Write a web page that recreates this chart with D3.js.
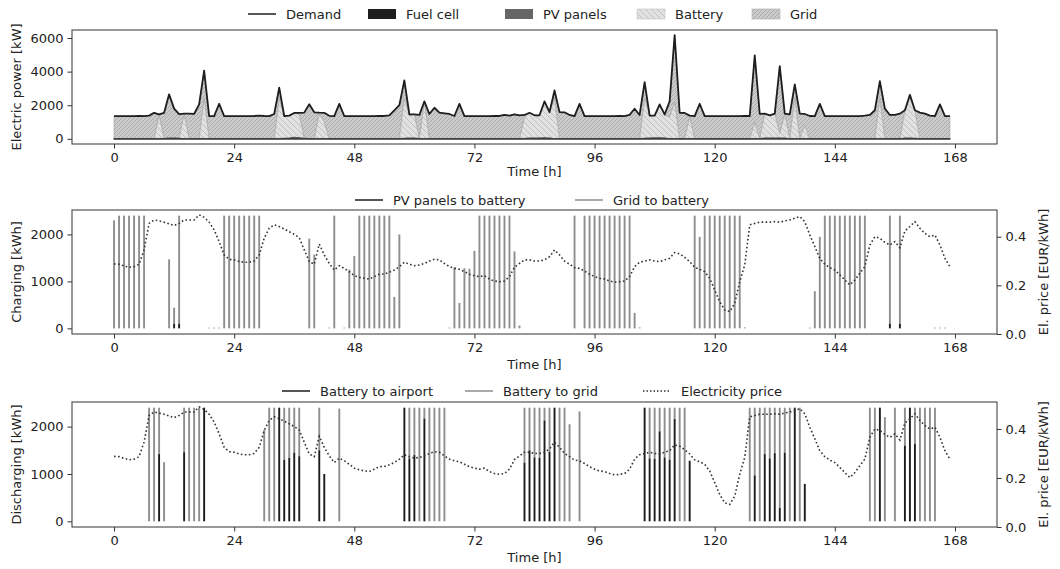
<!DOCTYPE html>
<html><head><meta charset="utf-8">
<script src="https://cdn.jsdelivr.net/npm/d3@7/dist/d3.min.js"></script>
<style>
body{margin:0;background:#fff}
text{font-family:"DejaVu Sans",sans-serif;fill:#222}
</style>
</head><body>
<svg id="c" width="1060" height="569"></svg>
<script>
// ---------------- DATA (hourly, h = 0..167) ----------------
const hours = d3.range(168);
const xTicks = [0,24,48,72,96,120,144,168];
const powerTicks = [0,2000,4000,6000];
const energyTicks = [0,1000,2000];
const priceTicks = [0.0,0.2,0.4];

const demand = [
1350,1350,1350,1350,1350,1360,1350,1380,1550,1450,1550,2650,
1800,1470,1500,1500,1480,2050,4060,1350,1350,2090,1350,1350,
1350,1350,1350,1350,1360,1380,1360,1350,1480,3050,1360,1380,
1540,1550,1560,2060,1580,1560,1550,1370,1350,2080,1350,1350,
1350,1350,1350,1350,1350,1360,1360,1400,1700,2000,3480,1450,
1450,1420,2230,1480,1850,1560,1520,1480,1360,2080,1350,1350,
1350,1350,1350,1350,1360,1360,1420,1380,1450,1400,1420,1550,
1400,1400,2230,1590,2880,1590,1580,1420,1350,2080,1350,1350,
1350,1350,1350,1350,1350,1360,1350,1430,1790,1420,3380,1380,
1380,2050,1450,2230,6170,1550,1540,1380,1350,2090,1350,1350,
1350,1350,1350,1350,1350,1350,1360,1360,4970,1480,1500,1400,
1500,4330,1500,1450,3240,1500,1480,1360,1350,2080,1350,1350,
1350,1350,1350,1350,1350,1350,1380,1420,1700,3430,1800,1420,
1420,1500,1700,2620,1700,1560,1500,1380,1350,2050,1350,1350];

const fuelCell = [
0,0,0,0,0,0,0,0,0,0,0,0, 0,0,0,0,0,0,0,0,0,0,0,0,
0,0,0,0,0,0,0,0,0,0,0,0, 0,0,0,0,0,0,0,0,0,0,0,0,
0,0,0,0,0,0,0,0,0,0,0,0, 0,0,0,0,0,0,0,0,0,0,0,0,
0,0,0,0,0,0,0,0,0,0,0,0, 0,0,0,0,0,0,0,0,0,0,0,0,
0,0,0,0,0,0,0,0,0,0,0,0, 0,0,0,0,0,0,0,0,0,0,0,0,
0,0,0,0,0,0,0,0,0,0,0,0, 0,0,0,0,0,0,0,0,0,0,0,0,
0,0,0,0,0,0,0,0,0,0,0,0, 0,0,0,0,0,0,0,0,0,0,0,0];

const pvPanels = [
0,0,0,0,0,0,0,0,0,0,20,40,
40,30,0,0,0,0,0,0,0,0,0,0,
0,0,0,0,0,0,0,0,0,0,30,40,
90,60,30,0,0,0,0,0,0,0,0,0,
0,0,0,0,0,0,0,0,0,0,30,40,
40,20,0,0,0,0,0,0,0,0,0,0,
0,0,0,0,0,0,0,0,0,0,20,40,
50,50,60,40,0,0,0,0,0,0,0,0,
0,0,0,0,0,0,0,0,0,0,30,50,
60,60,50,0,0,0,0,0,0,0,0,0,
0,0,0,0,0,0,0,0,0,0,50,50,
50,40,40,0,0,0,0,0,0,0,0,0,
0,0,0,0,0,0,0,0,0,0,0,0,
0,0,40,40,30,0,0,0,0,0,0,0];

// battery -> airport (also "Battery" in the power mix)
const batteryToAirport = [
0,0,0,0,0,0,0,0,0,1420,0,0,
0,0,1460,0,0,0,2400,0,0,0,0,0,
0,0,0,0,0,0,0,0,0,2400,1300,1340,
1450,1375,0,0,0,1500,1000,0,0,0,0,0,
0,0,0,0,0,0,0,0,0,0,2400,1330,
1400,0,2170,0,0,0,0,0,0,0,0,0,
0,0,0,0,0,0,0,0,0,0,1240,1500,
1350,1340,2130,1470,2400,0,0,0,0,0,0,0,
0,0,0,0,0,0,0,0,0,0,2400,1330,
1320,1900,1350,1300,2160,0,0,1280,0,0,0,0,
0,0,0,0,0,0,0,0,970,0,1420,1330,
1440,280,1450,0,2400,0,790,0,0,0,0,0,
0,0,0,0,0,0,0,0,0,2400,0,0,
0,0,1600,2400,1640,0,0,0,0,0,0,0];

const gridSupply = [
1350,1350,1350,1350,1350,1360,1350,1380,1550,30,1530,2610,
1760,1440,40,1500,1480,2050,1660,1350,1350,2090,1350,1350,
1350,1350,1350,1350,1360,1380,1360,1350,1480,650,30,0,
0,115,1530,2060,1580,60,550,1370,1350,2080,1350,1350,
1350,1350,1350,1350,1350,1360,1360,1400,1700,2000,1050,80,
10,1400,60,1480,1850,1560,1520,1480,1360,2080,1350,1350,
1350,1350,1350,1350,1360,1360,1420,1380,1450,1400,160,10,
0,10,40,80,480,1590,1580,1420,1350,2080,1350,1350,
1350,1350,1350,1350,1350,1360,1350,1430,1790,1420,950,0,
0,90,50,930,4010,1550,1540,100,1350,2090,1350,1350,
1350,1350,1350,1350,1350,1350,1360,1360,4000,1480,30,20,
10,4010,10,1450,840,1500,690,1360,1350,2080,1350,1350,
1350,1350,1350,1350,1350,1350,1380,1420,1700,1030,1800,1420,
1420,1500,60,180,30,1560,1500,1380,1350,2050,1350,1350];

const pvToBattery = [
0,0,0,0,0,0,0,0,0,0,0,0,
100,100,0,0,0,0,0,0,0,0,0,0,
0,0,0,0,0,0,0,0,0,0,0,0, 0,0,0,0,0,0,0,0,0,0,0,0,
0,0,0,0,0,0,0,0,0,0,0,0, 0,0,0,0,0,0,0,0,0,0,0,0,
0,0,0,0,0,0,0,0,0,0,0,0, 0,0,0,0,0,0,0,0,0,0,0,0,
0,0,0,0,0,0,0,0,0,0,0,0, 0,0,0,0,0,0,0,0,0,0,0,0,
0,0,0,0,0,0,0,0,0,0,0,0, 0,0,0,0,0,0,0,0,0,0,0,0,
0,0,0,0,0,0,0,0,0,0,0,100,
0,100,0,0,0,0,0,0,0,0,0,0];

const gridToBattery = [
2300,2400,2400,2400,2400,2400,2400,0,0,0,0,1470,
340,2300,0,0,0,0,0,15,15,15,2400,2400,
2400,2400,2400,2400,2400,2400,0,0,0,0,0,0,
0,0,0,1910,1570,0,0,15,2400,0,15,1250,
1540,2400,2400,2400,2400,2400,2400,2400,670,2000,0,0,
0,0,0,0,0,0,0,15,1300,540,1280,1270,
1650,2400,2400,2400,2400,2400,2400,2400,1640,60,0,0,
0,0,0,0,0,0,0,0,2400,0,2400,2400,
2400,2400,2400,2400,2400,2400,2400,2400,330,20,0,0,
0,0,0,0,0,0,0,0,2400,1950,2400,2400,
2400,2400,2400,2400,2400,2400,20,0,0,0,0,0,
0,0,0,0,0,0,0,15,790,1950,2400,2400,
2400,2400,2400,2400,2400,2400,2400,0,0,0,0,2300,
0,2300,0,0,0,0,0,0,15,15,15,0];

const batteryToGrid = [
0,0,0,0,0,0,0,2400,2400,980,1250,0,
0,0,940,2400,2400,2400,0,0,0,0,0,0,
0,0,0,0,0,0,1930,2400,2400,0,1100,1060,
950,1025,0,0,0,900,0,0,0,2380,0,0,
0,0,0,0,0,0,0,0,0,0,0,1070,
1000,2400,230,2400,2400,2400,2400,0,0,0,0,0,
0,0,0,0,0,0,0,0,0,0,1160,900,
1050,1060,270,930,0,2400,2400,2050,0,2320,0,0,
0,0,0,0,0,0,0,0,0,0,0,1070,
1080,500,1050,1100,240,2400,2400,0,0,0,0,0,
0,0,0,0,0,0,0,2400,1430,2400,980,1070,
960,2120,950,2400,0,2400,0,0,0,0,0,0,
0,0,0,0,0,0,0,2400,2400,0,2200,0,
2400,0,800,0,760,2400,2400,2400,2400,0,0,0];

const elPrice = [
0.288,0.287,0.280,0.274,0.277,0.287,0.346,0.455,0.469,0.465,0.460,0.453,
0.446,0.455,0.469,0.469,0.469,0.490,0.480,0.460,0.428,0.380,0.325,0.307,
0.305,0.298,0.295,0.295,0.300,0.325,0.394,0.435,0.449,0.442,0.432,0.421,
0.410,0.396,0.346,0.298,0.287,0.370,0.325,0.290,0.263,0.281,0.270,0.256,
0.240,0.233,0.229,0.226,0.236,0.246,0.247,0.254,0.263,0.277,0.295,0.287,
0.281,0.284,0.290,0.300,0.307,0.305,0.290,0.277,0.270,0.266,0.256,0.246,
0.240,0.236,0.240,0.226,0.218,0.215,0.218,0.236,0.275,0.290,0.305,0.305,
0.300,0.300,0.305,0.318,0.346,0.325,0.300,0.287,0.273,0.270,0.259,0.246,
0.236,0.229,0.226,0.218,0.213,0.215,0.218,0.236,0.277,0.295,0.300,0.305,
0.300,0.298,0.305,0.311,0.335,0.330,0.315,0.298,0.274,0.266,0.256,0.229,
0.181,0.133,0.099,0.092,0.126,0.215,0.284,0.449,0.455,0.460,0.460,0.460,
0.462,0.460,0.465,0.469,0.476,0.483,0.462,0.407,0.360,0.311,0.287,0.273,
0.263,0.243,0.222,0.202,0.222,0.250,0.277,0.366,0.400,0.394,0.377,0.366,
0.380,0.355,0.424,0.442,0.462,0.435,0.414,0.400,0.407,0.366,0.311,0.277];

// ---------------- LAYOUT ----------------
const svg = d3.select("#c");
const X0 = 72, X1 = 997;
const P1 = {top:30, bottom:144}, P2 = {top:210, bottom:334}, P3 = {top:402, bottom:527};
const x = d3.scaleLinear().domain([-8.4, 176.4]).range([X0, X1]);
const FS = 13;
const AX = "#333";
const BAR_W = 1.9;
const GREY = "#8e8e8e", DARK = "#1c1c1c";

const defs = svg.append("defs");
// Grid hatch  ////
const pg = defs.append("pattern").attr("id","hGrid").attr("patternUnits","userSpaceOnUse")
  .attr("width",4).attr("height",4);
pg.append("rect").attr("width",4).attr("height",4).attr("fill","#cbcbcb");
pg.append("path").attr("d","M-1,1 L1,-1 M0,4 L4,0 M3,5 L5,3")
  .attr("stroke","#a3a3a3").attr("stroke-width",0.8);
// Battery hatch \\\\
const pb = defs.append("pattern").attr("id","hBat").attr("patternUnits","userSpaceOnUse")
  .attr("width",6).attr("height",6);
pb.append("rect").attr("width",6).attr("height",6).attr("fill","#e1e1e1");
pb.append("path").attr("d","M0,0 L6,6 M-1,5 L1,7 M5,-1 L7,1")
  .attr("stroke","#b9b9b9").attr("stroke-width",0.8);

function styleAxis(g){
  g.select(".domain").remove();
  g.selectAll(".tick line").attr("stroke",AX).attr("stroke-width",1);
  g.selectAll(".tick text").attr("font-size",FS).attr("fill","#222")
    .attr("font-family","DejaVu Sans, sans-serif");
}
function frame(P){
  svg.append("rect").attr("x",X0).attr("y",P.top).attr("width",X1-X0).attr("height",P.bottom-P.top)
    .attr("fill","none").attr("stroke",AX).attr("stroke-width",1);
}
function xAxis(P, labelY){
  svg.append("g").attr("transform",`translate(0,${P.bottom})`)
    .call(d3.axisBottom(x).tickValues(xTicks).tickFormat(d3.format("d")).tickSize(4.5).tickPadding(4)).call(styleAxis);
  svg.append("text").attr("x",(X0+X1)/2).attr("y",labelY).attr("text-anchor","middle")
    .attr("font-size",FS).text("Time [h]");
}
function yAxisLeft(y, ticks, label){
  svg.append("g").attr("transform",`translate(${X0},0)`)
    .call(d3.axisLeft(y).tickValues(ticks).tickFormat(d3.format("d")).tickSize(4.5).tickPadding(4)).call(styleAxis);
  const r = y.range();
  const cy = (r[0]+r[1])/2;
  svg.append("text").attr("transform",`translate(21,${cy}) rotate(-90)`).attr("text-anchor","middle")
    .attr("font-size",FS).text(label);
}
function yAxisRight(y, P){
  svg.append("g").attr("transform",`translate(${X1},0)`)
    .call(d3.axisRight(y).tickValues(priceTicks).tickFormat(d3.format(".1f")).tickSize(4.5).tickPadding(4))
    .call(styleAxis);
  svg.append("text").attr("transform",`translate(1048,${(P.top+P.bottom)/2}) rotate(-90)`)
    .attr("text-anchor","middle").attr("font-size",FS).text("El. price [EUR/kWh]");
}
function legend(yc, items){
  items.forEach(it=>{
    const g = svg.append("g");
    if(it.type==="line"){
      g.append("line").attr("x1",it.x).attr("x2",it.x+28).attr("y1",yc).attr("y2",yc)
        .attr("stroke",it.color).attr("stroke-width",it.w||1.5)
        .attr("stroke-dasharray",it.dash||null);
    } else {
      g.append("rect").attr("x",it.x).attr("y",yc-5).attr("width",28).attr("height",10)
        .attr("fill",it.fill).attr("stroke",it.stroke||"none").attr("stroke-width",0.6);
    }
    g.append("text").attr("x",it.x+38).attr("y",yc).attr("dy","0.35em")
      .attr("font-size",FS).text(it.label);
  });
}

// ---------------- PANEL 1: power mix ----------------
const y1 = d3.scaleLinear().domain([-308, 6478]).range([P1.bottom, P1.top]);
const mixRows = hours.map(h=>({h, fuel:fuelCell[h], pv:pvPanels[h], bat:batteryToAirport[h], grid:gridSupply[h]}));
const stack = d3.stack().keys(["fuel","pv","bat","grid"])(mixRows);
const area = d3.area().x(d=>x(d.data.h)).y0(d=>y1(d[0])).y1(d=>y1(d[1]));
const fills = {fuel:"#1e1e1e", pv:"#666666", bat:"url(#hBat)", grid:"url(#hGrid)"};
const strokes = {fuel:"#333", pv:"#5a5a5a", bat:"#a9a9a9", grid:"#ababab"};
const sw = {fuel:1.2, pv:1.2, bat:0.7, grid:0.7};
["grid","bat","pv","fuel"].forEach(k=>{
  const layer = stack.find(s=>s.key===k);
  svg.append("path").datum(layer).attr("d",area).attr("fill",fills[k])
    .attr("stroke",strokes[k]).attr("stroke-width",sw[k]).attr("stroke-linejoin","round");
});
svg.append("path").datum(hours).attr("fill","none").attr("stroke","#1e1e1e").attr("stroke-width",1.8)
  .attr("stroke-linejoin","round")
  .attr("d", d3.line().x(h=>x(h)).y(h=>y1(demand[h])));
frame(P1);
xAxis(P1, 176);
yAxisLeft(y1, powerTicks, "Electric power [kW]");
legend(14, [
  {type:"line", x:248, color:"#1e1e1e", w:1.5, label:"Demand"},
  {type:"rect", x:368, fill:"#1e1e1e", label:"Fuel cell"},
  {type:"rect", x:505, fill:"#666666", label:"PV panels"},
  {type:"rect", x:637, fill:"url(#hBat)", stroke:"#c4c4c4", label:"Battery"},
  {type:"rect", x:752, fill:"url(#hGrid)", stroke:"#b0b0b0", label:"Grid"}
]);

// ---------------- PANEL 2: charging ----------------
const y2 = d3.scaleLinear().domain([-120, 2520]).range([P2.bottom, P2.top]);
const p2 = d3.scaleLinear().domain([0, 0.51]).range([P2.bottom, P2.top]);
const g2 = svg.append("g");
hours.forEach(h=>{
  const pv = pvToBattery[h], gr = gridToBattery[h];
  if(gr>0) g2.append("rect").attr("x",x(h)-BAR_W/2).attr("width",BAR_W)
    .attr("y",y2(pv+gr)).attr("height",y2(pv)-y2(pv+gr)).attr("fill",GREY);
  if(pv>0) g2.append("rect").attr("x",x(h)-BAR_W/2).attr("width",BAR_W)
    .attr("y",y2(pv)).attr("height",y2(0)-y2(pv)).attr("fill",DARK);
});
const priceLine = (ys)=> d3.line().x(h=>x(h)).y(h=>ys(elPrice[h]));
svg.append("path").datum(hours).attr("fill","none").attr("stroke","#333").attr("stroke-width",1.6)
  .attr("stroke-dasharray","1.6,2.4").attr("d",priceLine(p2));
frame(P2);
xAxis(P2, 369);
yAxisLeft(y2, energyTicks, "Charging [kWh]");
yAxisRight(p2, P2);
legend(200, [
  {type:"line", x:355, color:DARK, w:1.5, label:"PV panels to battery"},
  {type:"line", x:575, color:GREY, w:1.5, label:"Grid to battery"}
]);

// ---------------- PANEL 3: discharging ----------------
const y3 = d3.scaleLinear().domain([-120, 2520]).range([P3.bottom, P3.top]);
const p3 = d3.scaleLinear().domain([0, 0.51]).range([P3.bottom, P3.top]);
const g3 = svg.append("g");
hours.forEach(h=>{
  const a = batteryToAirport[h], gr = batteryToGrid[h];
  if(gr>0) g3.append("rect").attr("x",x(h)-BAR_W/2).attr("width",BAR_W)
    .attr("y",y3(a+gr)).attr("height",y3(a)-y3(a+gr)).attr("fill",GREY);
  if(a>0) g3.append("rect").attr("x",x(h)-BAR_W/2).attr("width",BAR_W)
    .attr("y",y3(a)).attr("height",y3(0)-y3(a)).attr("fill",DARK);
});
svg.append("path").datum(hours).attr("fill","none").attr("stroke","#333").attr("stroke-width",1.6)
  .attr("stroke-dasharray","1.6,2.4").attr("d",priceLine(p3));
frame(P3);
xAxis(P3, 562);
yAxisLeft(y3, energyTicks, "Discharging [kWh]");
yAxisRight(p3, P3);
legend(391, [
  {type:"line", x:282, color:DARK, w:1.5, label:"Battery to airport"},
  {type:"line", x:465, color:GREY, w:1.5, label:"Battery to grid"},
  {type:"line", x:643, color:"#333", w:1.5, dash:"1.5,2", label:"Electricity price"}
]);
</script>
</body></html>
